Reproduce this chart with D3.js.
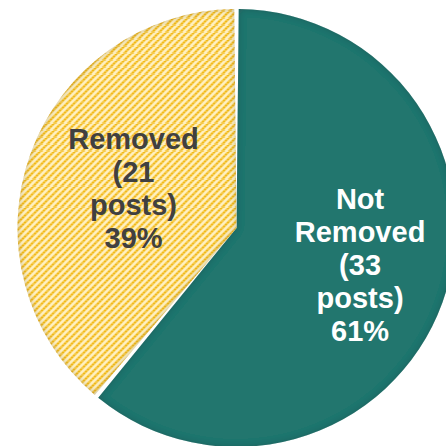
<!DOCTYPE html>
<html>
<head>
<meta charset="utf-8">
<script src="https://cdn.jsdelivr.net/npm/d3@7"></script>
<style>
  html, body { margin: 0; padding: 0; background: #fff; }
  svg { display: block; }
</style>
</head>
<body>
<div id="chart"></div>
<script>
// ---- data ----
const categories = ["Not Removed", "Removed"];
const values = [33, 21];
const unitLabel = "posts";

// ---- layout / style ----
const W = 446, H = 446;
const cx = 236.5, cy = 228, R = 219;
const fills = ["#22766E", "url(#hatch)"];
const textColors = ["#ffffff", "#404040"];
const labelRadiusFactor = [0.6, 0.5];
const labelDy = [-8, -3];
const fontSize = 29, lineH = 33;

const svg = d3.select("#chart").append("svg")
  .attr("width", W).attr("height", H);

const defs = svg.append("defs");

// yellow hatch pattern
const pat = defs.append("pattern")
  .attr("id", "hatch")
  .attr("patternUnits", "userSpaceOnUse")
  .attr("width", 7).attr("height", 7);
pat.append("rect").attr("width", 7).attr("height", 7).attr("fill", "#FFF1C4");
pat.append("path")
  .attr("d", "M-1,8 L8,-1 M-1,1 L1,-1 M6,8 L8,6")
  .attr("stroke", "#F9D466")
  .attr("stroke-width", 2.4)
  .attr("fill", "none");
pat.append("path")
  .attr("d", "M-1,8 L8,-1 M-1,1 L1,-1 M6,8 L8,6")
  .attr("stroke", "#F0B000")
  .attr("stroke-width", 1.8)
  .attr("stroke-dasharray", "1.6 1.2")
  .attr("fill", "none");

// inner shadow filter
const f = defs.append("filter").attr("id", "inner")
  .attr("x", "-10%").attr("y", "-10%").attr("width", "120%").attr("height", "120%");
f.append("feComponentTransfer").attr("in", "SourceAlpha").attr("result", "inv")
  .append("feFuncA").attr("type", "table").attr("tableValues", "1 0");
f.append("feGaussianBlur").attr("in", "inv").attr("stdDeviation", 3.5).attr("result", "blur");
f.append("feFlood").attr("flood-color", "#1a2a3a").attr("flood-opacity", 0.45).attr("result", "col");
f.append("feComposite").attr("in", "col").attr("in2", "blur").attr("operator", "in").attr("result", "sh");
f.append("feComposite").attr("in", "sh").attr("in2", "SourceAlpha").attr("operator", "in").attr("result", "inner");
const m = f.append("feMerge");
m.append("feMergeNode").attr("in", "SourceGraphic");
m.append("feMergeNode").attr("in", "inner");

const gap = 4.5;
const pie = d3.pie().sort(null).value(d => d.value).padAngle(gap / R);
const data = categories.map((c, i) => ({ cat: c, value: values[i], i }));
const arcs = pie(data);
const total = d3.sum(values);

const arc = d3.arc().innerRadius(0).outerRadius(R).padRadius(R);

const g = svg.append("g").attr("transform", `translate(${cx},${cy})`);

g.selectAll("path.slice")
  .data(arcs)
  .join("path")
  .attr("class", "slice")
  .attr("d", arc)
  .attr("fill", d => fills[d.data.i])
  .attr("filter", "url(#inner)");

// labels
arcs.forEach(d => {
  const k = labelRadiusFactor[d.data.i];
  const la = d3.arc().innerRadius(R * k).outerRadius(R * k);
  const [lx, ly0] = la.centroid(d);
  const ly = ly0 + labelDy[d.data.i];
  const pct = Math.round(d.data.value / total * 100) + "%";
  const lines = d.data.cat.split(" ").concat(["(" + d.data.value, unitLabel + ")", pct]);
  const n = lines.length;
  const first = ly - (n - 1) / 2 * lineH + fontSize * 0.36;
  const t = g.append("text")
    .attr("text-anchor", "middle")
    .attr("font-family", "'Liberation Sans', Arial, sans-serif")
    .attr("font-weight", "bold")
    .attr("font-size", fontSize)
    .attr("fill", textColors[d.data.i]);
  lines.forEach((s, j) => {
    t.append("tspan").attr("x", lx).attr("y", first + j * lineH).text(s);
  });
});
</script>
</body>
</html>
